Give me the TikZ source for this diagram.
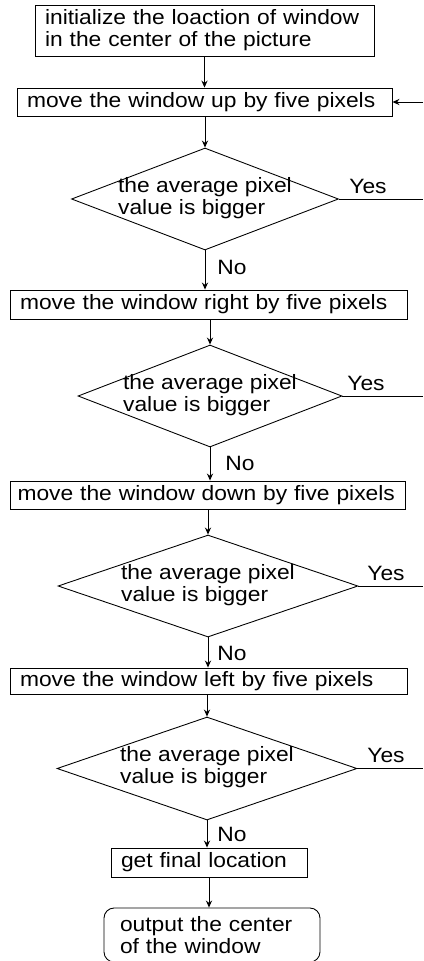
\documentclass[tikz,border=0pt]{standalone}
\usepackage{fontspec}
\setmainfont{Liberation Sans}[FakeStretch=1.1]
\usetikzlibrary{arrows.meta,shapes.geometric}
\newcommand{\avgtext}{\makebox[0pt]{\begin{tabular}{@{}l@{}}the average pixel\\value is bigger\end{tabular}}}

\begin{document}
\begin{tikzpicture}[x=0.02cm, y=-0.02cm, >={Stealth[length=4pt,width=3.5pt]},
  font=\fontsize{11.8}{12.5}\selectfont, line width=0.5pt,
  box/.style={draw, rectangle, inner xsep=0.2cm, inner ysep=1pt, align=left},
  decision/.style={draw, diamond, inner sep=0pt, minimum height=2.04cm}]
  \useasboundingbox (0,0) rectangle (423,961);
  \coordinate (edge) at (423,0);

  % process boxes
  \node[box, minimum height=1.02cm, text width=6.38cm] (init) at (204.5,30.5) {initialize the loaction of window\\in the center of the picture};
  \node[box, minimum height=0.56cm, text width=7.1cm] (mvup) at (204.5,102) {move the window up by five pixels};
  \node[box, minimum height=0.58cm, text width=7.54cm] (mvright) at (208.5,304.5) {move the window right by five pixels};
  \node[box, minimum height=0.56cm, inner xsep=0.15cm, text width=7.6cm] (mvdown) at (207.5,495) {move the window down by five pixels};
  \node[box, minimum height=0.52cm, text width=7.54cm] (mvleft) at (208.5,681) {move the window left by five pixels};
  \node[box, minimum height=0.58cm, text width=3.52cm] (final) at (209,862.5) {get final location};
  \node[box, rounded corners=0.2cm, inner xsep=0.32cm, minimum height=1.08cm, text width=3.68cm] (output) at (212,935) {output the center\\of the window};

  % decisions
  \node[decision, minimum width=5.34cm] (d1) at (205,199) {\avgtext};
  \node[decision, minimum width=5.28cm] (d2) at (210,396) {\avgtext};
  \node[decision, minimum width=6cm] (d3) at (208,586) {\avgtext};
  \node[decision, minimum width=6cm, minimum height=2.06cm] (d4) at (207,768.5) {\avgtext};

  % labels
  \node (yes1) at (368,186) {Yes};
  \node (yes2) at (366,383) {Yes};
  \node (yes3) at (386,573) {Yes};
  \node (yes4) at (386,755) {Yes};
  \node (no1) at (232,267) {No};
  \node (no2) at (240,463) {No};
  \node (no3) at (232,653) {No};
  \node (no4) at (232,834) {No};

  % main flow
  \draw[->] (init) -- (mvup);
  \draw[->] (d1.north |- mvup.south) -- (d1.north);
  \draw[->] (d1.south) -- (d1.south |- mvright.north);
  \draw[->] (d2.north |- mvright.south) -- (d2.north);
  \draw[->] (d2.south) -- (d2.south |- mvdown.north);
  \draw[->] (d3.north |- mvdown.south) -- (d3.north);
  \draw[->] (d3.south) -- (d3.south |- mvleft.north);
  \draw[->] (d4.north |- mvleft.south) -- (d4.north);
  \draw[->] (d4.south) -- (d4.south |- final.north);
  \draw[->] (final.south) -- (final.south |- output.north);

  % yes branches and loop back
  \draw (d1.east) -- (d1.east -| edge);
  \draw (d2.east) -- (d2.east -| edge);
  \draw (d3.east) -- (d3.east -| edge);
  \draw (d4.east) -- (d4.east -| edge);
  \draw[->] (mvup.east -| edge) -- (mvup.east);
\end{tikzpicture}
\end{document}
